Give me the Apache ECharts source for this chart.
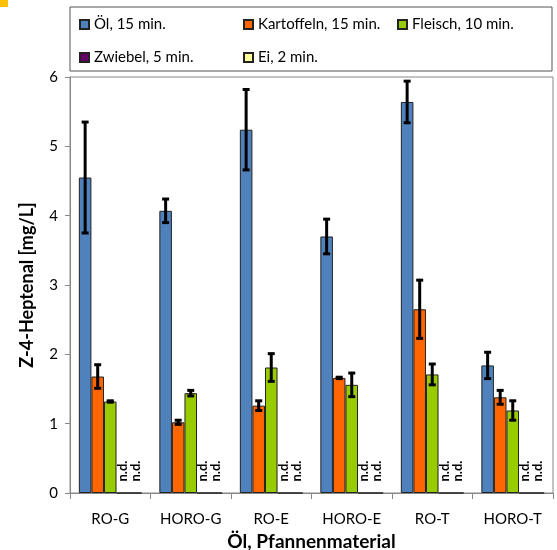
<!DOCTYPE html>
<html>
<head>
<meta charset="utf-8">
<script src="https://cdn.jsdelivr.net/npm/echarts@6/dist/echarts.min.js"></script>
<style>
html,body{margin:0;padding:0;background:#fff;}
#chart{width:557px;height:550px;}
</style>
</head>
<body>
<div id="chart"></div>
<script>
var categories = ['RO-G','HORO-G','RO-E','HORO-E','RO-T','HORO-T'];
var seriesNames = ['Öl, 15 min.','Kartoffeln, 15 min.','Fleisch, 10 min.','Zwiebel, 5 min.','Ei, 2 min.'];
var oelVals = [4.55, 4.07, 5.24, 3.70, 5.64, 1.84];
var oelErr = [0.80, 0.17, 0.58, 0.25, 0.30, 0.19];
var kartVals = [1.68, 1.02, 1.26, 1.66, 2.65, 1.38];
var kartErr = [0.17, 0.03, 0.07, 0.01, 0.42, 0.10];
var fleischVals = [1.32, 1.44, 1.81, 1.56, 1.71, 1.19];
var fleischErr = [0.01, 0.04, 0.20, 0.17, 0.15, 0.14];
var zwiebelVals = [0, 0, 0, 0, 0, 0];
var eiVals = [0, 0, 0, 0, 0, 0];
var colors = ['#4F81BD','#FF6600','#99CC00','#660066','#FFFF99'];

var font = 'Lato, "Open Sans", sans-serif';
var nBars = 5;
var catGap = 0.22;

function barSeries(name, data, color, nd){
    var s = {
        name: name,
        type: 'bar',
        barGap: 0,
        barCategoryGap: '22%',
        itemStyle: {color: color, borderColor: '#222', borderWidth: 1},
        data: data
    };
    if(nd){
        s.label = {
            show: true,
            position: 'top',
            distance: 11,
            rotate: 90,
            align: 'left',
            verticalAlign: 'middle',
            formatter: 'n.d.',
            fontFamily: font,
            fontWeight: 'bold',
            fontSize: 13,
            color: '#000'
        };
    }
    return s;
}

// error bar data: [category, value, err, bar position]
var errData = [];
[[oelVals,oelErr],[kartVals,kartErr],[fleischVals,fleischErr]].forEach(function(p, si){
    for(var i = 0; i < categories.length; i++){
        errData.push([i, p[0][i], p[1][i], si]);
    }
});

function renderErr(params, api){
    var cat = api.value(0), v = api.value(1), e = api.value(2), pos = api.value(3);
    var band = api.size([1,0])[0];
    var bw = band*(1-catGap)/nBars;
    var off = -band*(1-catGap)/2 + bw*(pos+0.5);
    var hi = api.coord([cat, v+e]);
    var lo = api.coord([cat, v-e]);
    var x = hi[0] + off;
    var cap = 3.5;
    var st = {stroke: '#000', lineWidth: 3};
    return {
        type: 'group',
        children: [
            {type:'line', shape:{x1:x, y1:hi[1], x2:x, y2:lo[1]}, style: st},
            {type:'line', shape:{x1:x-cap, y1:hi[1], x2:x+cap, y2:hi[1]}, style: st},
            {type:'line', shape:{x1:x-cap, y1:lo[1], x2:x+cap, y2:lo[1]}, style: st}
        ]
    };
}

var legendPos = [[79,17],[243,17],[397,17],[79,50],[243,50]];
var legends = seriesNames.map(function(n, i){
    return {
        data: [n],
        left: legendPos[i][0],
        top: legendPos[i][1],
        padding: 0,
        icon: 'rect',
        itemWidth: 9,
        itemHeight: 9,
        itemGap: 4,
        textStyle: {fontFamily: font, fontSize: 15, color: '#000'},
        selectedMode: false
    };
});

var option = {
    animation: false,
    backgroundColor: '#fff',
    color: colors,
    legend: legends,
    grid: {
        left: 70, right: 4, top: 77, bottom: 57,
        outerBoundsMode: 'none',
        containLabel: false,
        show: true, borderColor: '#888', borderWidth: 1
    },
    graphic: [
        {type:'rect', shape:{x:0, y:0, width:8, height:7}, style:{fill:'#FFC000'}},
        {type:'rect', shape:{x:70, y:7, width:482, height:64}, style:{fill:'none', stroke:'#555', lineWidth:1}}
    ],
    xAxis: {
        type: 'category',
        data: categories,
        axisLine: {lineStyle: {color: '#888'}},
        axisTick: {show: true, alignWithLabel: false, length: 6, lineStyle: {color: '#888'}},
        axisLabel: {fontFamily: font, fontSize: 15, color: '#000', margin: 19},
        name: 'Öl, Pfannenmaterial',
        nameLocation: 'middle',
        nameGap: 37,
        nameTextStyle: {fontFamily: font, fontSize: 19, fontWeight: 'bold', color: '#000'}
    },
    yAxis: {
        type: 'value',
        min: 0, max: 6, interval: 1,
        splitLine: {show: false},
        axisLine: {show: true, lineStyle: {color: '#888'}},
        axisTick: {show: true, length: 5, lineStyle: {color: '#888'}},
        axisLabel: {fontFamily: font, fontSize: 15, color: '#000', margin: 12},
        name: 'Z-4-Heptenal [mg/L]',
        nameLocation: 'middle',
        nameGap: 34,
        nameTextStyle: {fontFamily: font, fontSize: 18, fontWeight: 'bold', color: '#000'}
    },
    series: [
        barSeries(seriesNames[0], oelVals, colors[0]),
        barSeries(seriesNames[1], kartVals, colors[1]),
        barSeries(seriesNames[2], fleischVals, colors[2]),
        barSeries(seriesNames[3], zwiebelVals, colors[3], true),
        barSeries(seriesNames[4], eiVals, colors[4], true),
        {
            type: 'custom',
            renderItem: renderErr,
            data: errData,
            z: 10,
            silent: true
        }
    ]
};

var myChart = echarts.init(document.getElementById('chart'));
myChart.setOption(option, true);
</script>
</body>
</html>
